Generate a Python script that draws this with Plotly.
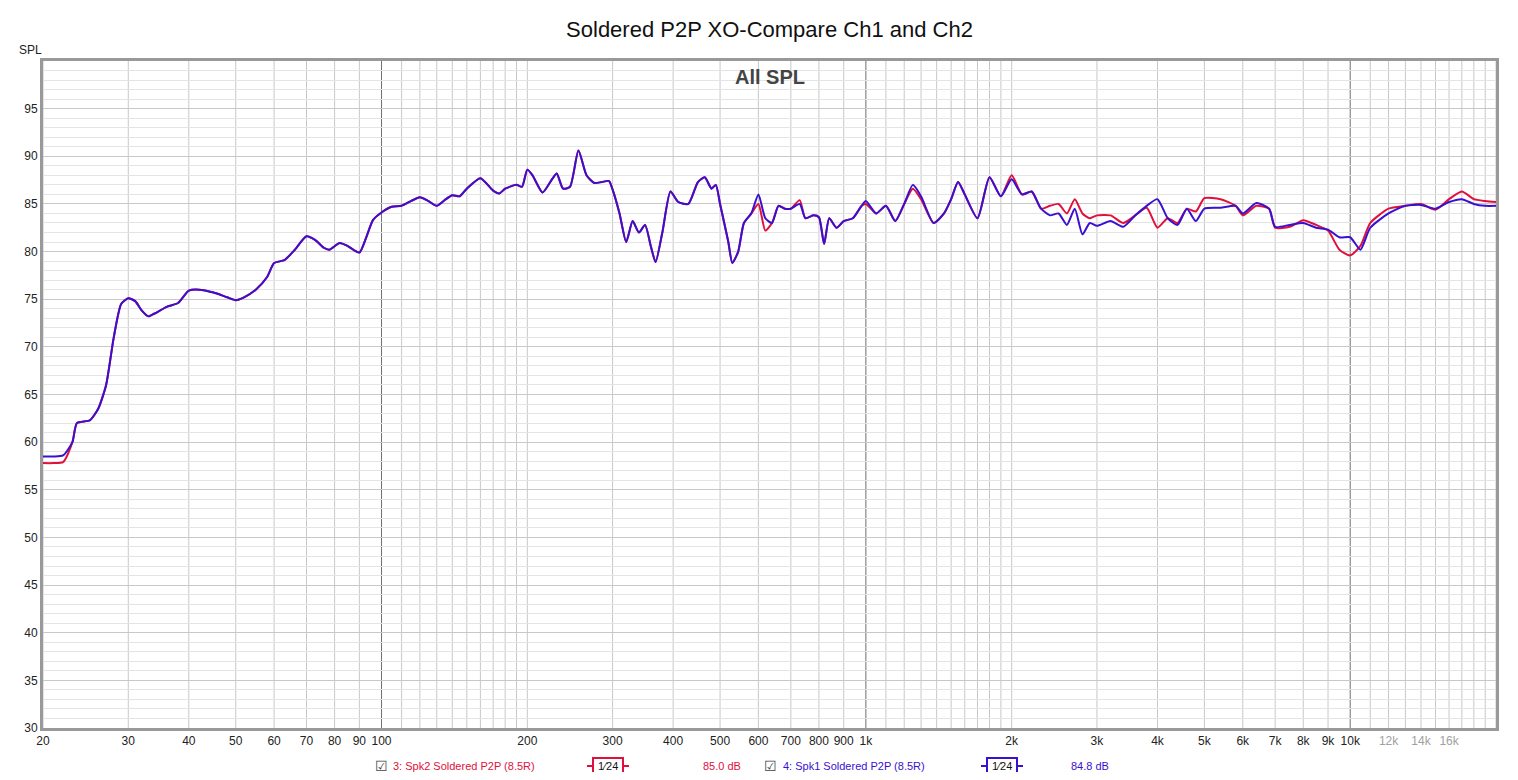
import plotly.graph_objects as go
import numpy as np

freq = [20,21,22,23,23.5,25,26,27,28,29,30,31,32,33,34,36,38,40,42,45,48,50,52,55,58,60,63,66,70,73,76,78,82,85,90,93,96,100,105,110,115,120,125,130,135,140,145,150,160,170,175,180,190,195,200,205,215,225,230,237,245,255,265,275,285,295,300,310,320,330,340,350,360,368,380,395,410,430,450,465,480,490,500,510,520,530,545,560,580,600,620,640,660,680,700,730,750,780,800,820,840,870,900,940,980,1000,1050,1100,1150,1200,1250,1300,1380,1450,1500,1550,1600,1700,1800,1900,2000,2100,2200,2300,2400,2500,2600,2700,2800,2900,3000,3200,3400,3600,3800,4000,4200,4400,4600,4800,5000,5400,5800,6000,6400,6800,7000,7500,8000,8500,9000,9500,10000,10500,11000,12000,13000,14000,15000,16000,17000,18000,19000,20000]

common = [None,None,58.2,60,62,62.3,63.5,66,71,74.5,75.1,74.8,73.8,73.2,73.5,74.2,74.6,75.9,76,75.7,75.2,74.9,75.2,76,77.3,78.8,79.1,80.1,81.6,81.2,80.4,80.2,80.9,80.6,79.9,81.5,83.3,84.1,84.7,84.8,85.3,85.7,85.3,84.8,85.4,85.9,85.8,86.6,87.7,86.4,86.1,86.6,87,86.8,88.6,88,86.2,87.6,88.2,86.6,86.8,90.6,88,87.2,87.3,87.4,86.5,84,81,83.2,82,82.8,80.5,78.9,82,86.3,85.2,85,87.3,87.8,86.6,87,85,83,81,78.8,80,83,84]
spk2_red = common[:] + [85,82.2,83,84.8,84.5,84.5,85.4,83.5,83.8,83.6,80.8,83.5,82.5,83.2,83.5,84.8,85,84,84.8,83.2,85,86.6,85.5,83,84,85.5,87.3,86,83.5,87.8,85.8,88,86,86.3,84.5,84.8,85,84,85.5,84,83.5,83.8,83.8,83,83.8,84.6,82.5,83.5,83,84.5,84.2,85.6,85.5,84.8,83.8,84.8,84.5,82.5,82.6,83.3,82.8,82.2,80.2,79.6,80.6,83,84.5,84.8,85,84.4,85.5,86.3,85.5,85.3,85.2]
spk1_blue = common[:] + [86,83.5,83,84.8,84.5,84.5,85,83.5,83.8,83.6,80.8,83.5,82.5,83.2,83.5,84.8,85.3,84,84.8,83.2,85,87,85.8,83,84,85.5,87.3,86,83.5,87.8,85.8,87.6,86,86.3,84.5,83.8,84,82.8,84.5,81.8,83,82.7,83.2,82.6,83.8,84.8,85.5,83.5,82.8,84.5,83.2,84.5,84.6,84.8,84,85.1,84.5,82.6,82.8,83,82.5,82.3,81.5,81.5,80.2,82.5,84,84.8,84.9,84.5,85.2,85.5,85,84.8,84.8]
spk2_red[0:3] = [57.8, 57.8, 57.9]
spk1_blue[0:3] = [58.5, 58.5, 58.6]

RED = "#e0103c"; BLUE = "#3a10d0"

fig = go.Figure()
fig.add_trace(go.Scatter(x=freq, y=spk2_red, mode="lines", line=dict(color=RED, width=2, shape="spline", smoothing=0.6), name="red"))
fig.add_trace(go.Scatter(x=freq, y=spk1_blue, mode="lines", line=dict(color=BLUE, width=2, shape="spline", smoothing=0.6), name="blue"))

minor = []
for dec in [10, 100, 1000, 10000]:
    for m in range(2, 10):
        v = m * dec
        if 20 <= v <= 20000:
            minor.append(v)
    for m in np.arange(1.1, 2.0, 0.1):
        v = round(m * dec * 10)
        if 20 <= v <= 20000 and dec >= 10:
            minor.append(v)
for v in minor:
    fig.add_shape(type="line", x0=v, x1=v, y0=30, y1=100, xref="x", yref="y",
                  line=dict(color="#c8c8c8", width=1), layer="below")
for v in [100, 1000, 10000]:
    fig.add_shape(type="line", x0=v, x1=v, y0=30, y1=100, xref="x", yref="y",
                  line=dict(color="#707070", width=1), layer="below")

tickvals = [20,30,40,50,60,70,80,90,100,200,300,400,500,600,700,800,900,1000,2000,3000,4000,5000,6000,7000,8000,9000,10000,12000,14000,16000,20000]
G = "<span style='color:#a0a0a0'>%s</span>"
ticktext = ["20","30","40","50","60","70","80","90","100","200","300","400","500","600","700","800","900","1k","2k","3k","4k","5k","6k","7k","8k","9k","10k",G%"12k",G%"14k",G%"16k","20kHz"]

fig.update_layout(
    width=1502, height=764, paper_bgcolor="white", plot_bgcolor="white",
    margin=dict(l=35, r=14, t=53, b=44), showlegend=False,
    font=dict(family="Liberation Sans, Arial", size=12, color="#333"),
    title=dict(text="Soldered P2P XO-Compare Ch1 and Ch2", x=0.5, xref="paper", y=0.982, yref="container",
               xanchor="center", yanchor="top", font=dict(size=22, color="#111")),
    xaxis=dict(type="log", range=[np.log10(20), np.log10(20000)], tickvals=tickvals, ticktext=ticktext,
               showgrid=False, zeroline=False, ticks="", showline=True, linecolor="#999", linewidth=3,
               mirror=True, tickfont=dict(size=12, color="#222")),
    yaxis=dict(range=[30, 100], tickvals=list(range(30, 100, 5)), showgrid=True, gridcolor="#c8c8c8",
               minor=dict(dtick=1, showgrid=True, gridcolor="#e4e4e4"), zeroline=False, ticks="",
               showline=True, linecolor="#999", linewidth=3, mirror=True, tickfont=dict(size=12, color="#222")),
)
fig.add_annotation(text="SPL", xref="paper", yref="paper", x=-0.018, y=1.03, showarrow=False, xanchor="left", font=dict(size=12, color="#222"))
fig.add_annotation(text="<b>All SPL</b>", xref="paper", yref="paper", x=0.5, y=0.995, yanchor="top", showarrow=False, font=dict(size=20, color="#444"))

def px(p):
    return (p - 43) / 1453.0

ly = -0.057
def ann(text, x, color, xanchor="center", size=11, **kw):
    fig.add_annotation(text=text, xref="paper", yref="paper", x=px(x), y=ly, xanchor=xanchor, yanchor="middle",
                       showarrow=False, font=dict(size=size, color=color), **kw)

for cb, lab, box, db, col, labtxt, dbtxt in [
        (381, 391, 608, 722, RED, "3: Spk2 Soldered P2P (8.5R)", "85.0 dB"),
        (770, 781, 1002, 1090, BLUE, "4: Spk1 Soldered P2P (8.5R)", "84.8 dB")]:
    ann("☑", cb, "#444", size=14)
    ann(labtxt, lab, col, xanchor="left")
    fig.add_shape(type="line", xref="paper", yref="paper", x0=px(box-21), x1=px(box+21), y0=ly, y1=ly,
                  line=dict(color=col, width=2))
    ann(" 1⁄24 ", box, "#111", bordercolor=col, borderwidth=2, borderpad=1, bgcolor="white")
    ann(dbtxt, db, col)

fig.write_html("out.html")
